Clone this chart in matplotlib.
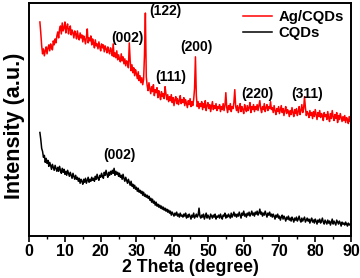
import numpy as np
import matplotlib
matplotlib.use('Agg')
import matplotlib.pyplot as plt

plt.rcParams['font.family'] = ['Liberation Sans', 'DejaVu Sans']
plt.rcParams['font.weight'] = 'bold'

# 2 theta grid (degree), 0.25 step from 3 to 90
two_theta = np.arange(3.0, 90.001, 0.25)

# Ag/CQDs intensity (a.u.), one row per 5 degrees
ag_cqds = [
    215, 204, 191, 183, 188, 181, 186, 190, 183, 189, 192, 186, 193, 189, 187, 196, 192, 198, 194, 201,
    205, 199, 208, 211, 203, 214, 206, 209, 215, 204, 210, 213, 203, 208, 211, 202, 207, 204, 199, 206,
    203, 198, 206, 200, 197, 204, 199, 202, 195, 201, 198, 193, 200, 208, 194, 199, 196, 201, 192, 198,
    194, 189, 197, 191, 193, 188, 195, 190, 186, 193, 189, 192, 185, 191, 188, 184, 190, 186, 183, 189,
    186, 181, 193, 180, 184, 179, 186, 177, 182, 178, 175, 183, 176, 180, 173, 178, 171, 176, 174, 169,
    194, 176, 166, 172, 164, 169, 161, 167, 163, 158, 165, 156, 161, 154, 159, 152, 157, 182, 224, 160,
    151, 146, 154, 148, 143, 150, 145, 152, 141, 147, 144, 149, 139, 146, 142, 137, 145, 140, 143, 138,
    150, 143, 137, 142, 135, 140, 136, 142, 134, 139, 131, 137, 140, 133, 138, 132, 136, 141, 133, 137,
    134, 139, 131, 137, 133, 129, 136, 132, 138, 130, 135, 131, 137, 148, 180, 141, 130, 135, 128, 133,
    130, 135, 127, 133, 129, 136, 126, 131, 134, 128, 132, 125, 130, 135, 127, 131, 128, 133, 126, 130,
    128, 132, 125, 130, 127, 133, 126, 131, 144, 129, 124, 131, 127, 133, 125, 130, 128, 134, 147, 130,
    126, 131, 124, 129, 133, 125, 130, 127, 123, 132, 128, 125, 131, 126, 129, 134, 124, 130, 127, 132,
    125, 130, 127, 132, 126, 131, 136, 128, 124, 130, 127, 133, 125, 129, 132, 126, 130, 128, 135, 127,
    129, 124, 131, 126, 122, 128, 125, 130, 123, 127, 131, 124, 128, 121, 126, 130, 123, 127, 125, 120,
    126, 122, 129, 124, 120, 127, 123, 128, 121, 125, 130, 122, 126, 132, 124, 128, 140, 129, 121, 125,
    123, 119, 126, 121, 124, 118, 125, 120, 127, 122, 117, 124, 120, 126, 119, 123, 121, 116, 124, 120,
    122, 117, 125, 119, 115, 123, 118, 126, 120, 116, 122, 118, 124, 114, 121, 117, 123, 119, 115, 120,
    116, 121, 114, 119, 117, 113, 120, 115, 118,
]

# CQDs intensity (a.u.)
cqds = [
    104, 97, 88, 85, 79, 81, 74, 78, 73, 76, 70, 74, 71, 67, 72, 69, 66, 71, 68, 65,
    69, 65, 70, 66, 63, 68, 64, 67, 62, 65, 61, 66, 63, 60, 64, 61, 58, 63, 60, 57,
    61, 57, 59, 55, 58, 53, 57, 55, 52, 57, 54, 58, 53, 56, 59, 54, 57, 55, 59, 56,
    58, 55, 60, 57, 62, 58, 56, 61, 59, 63, 60, 58, 64, 61, 66, 62, 59, 64, 61, 65,
    62, 66, 63, 68, 61, 65, 62, 64, 60, 63, 59, 61, 57, 62, 58, 55, 59, 56, 53, 57,
    54, 51, 55, 50, 52, 48, 51, 47, 49, 45, 48, 44, 46, 43, 45, 41, 44, 40, 42, 39,
    41, 38, 40, 36, 38, 34, 37, 33, 35, 31, 34, 30, 32, 29, 31, 28, 30, 27, 29, 26,
    28, 25, 27, 24, 26, 23, 25, 21, 24, 22, 20, 23, 21, 24, 20, 22, 19, 23, 20, 21,
    19, 22, 20, 23, 18, 21, 19, 22, 20, 17, 21, 19, 23, 18, 20, 22, 19, 21, 28, 20,
    18, 21, 19, 22, 17, 20, 23, 18, 21, 19, 17, 22, 20, 18, 21, 19, 22, 17, 20, 19,
    21, 18, 22, 19, 17, 21, 20, 23, 18, 21, 19, 22, 20, 18, 23, 19, 21, 24, 20, 22,
    19, 22, 20, 24, 21, 18, 23, 21, 25, 20, 22, 19, 23, 21, 24, 20, 22, 25, 21, 23,
    20, 24, 22, 25, 21, 23, 27, 22, 24, 20, 23, 21, 25, 22, 19, 23, 21, 24, 20, 22,
    19, 22, 20, 17, 21, 19, 22, 18, 20, 16, 19, 21, 17, 20, 18, 15, 19, 17, 20, 16,
    18, 15, 19, 17, 14, 18, 16, 19, 15, 17, 20, 16, 14, 18, 15, 17, 19, 14, 16, 18,
    15, 17, 13, 16, 18, 14, 16, 13, 17, 15, 12, 16, 14, 17, 13, 15, 18, 14, 12, 16,
    14, 12, 16, 13, 15, 11, 14, 17, 12, 15, 13, 11, 16, 14, 12, 15, 13, 10, 14, 12,
    13, 11, 14, 12, 10, 13, 11, 12, 12,
]

# peak labels: text, x, y
peak_labels = ['(002)', '(122)', '(111)', '(200)', '(220)', '(311)', '(002)']
peak_x = [27.5, 38.1, 39.5, 46.8, 63.9, 77.6, 25.2]
peak_y = [199, 226, 160, 190, 143, 143, 81]

fig = plt.figure(figsize=(3.6, 2.78), dpi=100)
ax = fig.add_axes([0.081, 0.151, 0.894, 0.838])

ax.plot(two_theta, ag_cqds, color='#ff0000', lw=1.1, label='Ag/CQDs')
ax.plot(two_theta, cqds, color='black', lw=1.1, label='CQDs')

for txt, x, y in zip(peak_labels, peak_x, peak_y):
    ax.text(x, y, txt, ha='center', va='center', fontsize=10, fontweight='bold')

ax.set_xlim(0, 90)
ax.set_ylim(0, 234)
ax.set_xticks(np.arange(0, 91, 10))
ax.set_xticks(np.arange(0, 91, 5), minor=True)
ax.set_yticks([])
ax.tick_params(axis='x', which='major', direction='out', length=4, width=1.2,
               labelsize=11.5, pad=2)
ax.tick_params(axis='x', which='minor', direction='out', length=2, width=1.0)
for s in ax.spines.values():
    s.set_linewidth(1.4)

ax.set_xlabel('2 Theta (degree)', fontsize=12.7, fontweight='bold', labelpad=0)
ax.set_ylabel('Intensity (a.u.)', fontsize=15.5, fontweight='bold')
ax.yaxis.set_label_coords(-0.012, 0.475)

ax.legend(loc='upper right', frameon=False, fontsize=10.7, handlelength=2.0,
          handletextpad=0.4, borderaxespad=0.1, labelspacing=0.1)

fig.savefig('out.png', dpi=100)
